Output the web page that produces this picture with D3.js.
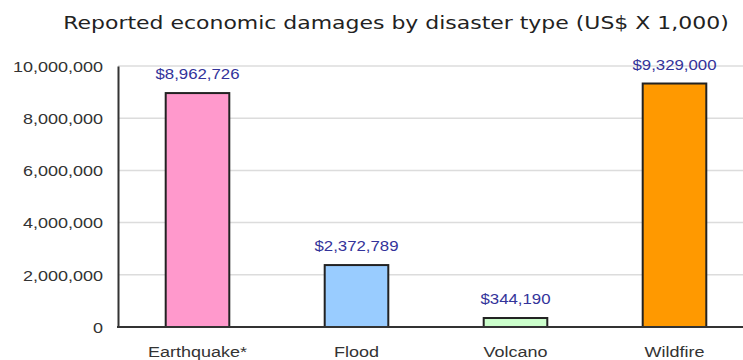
<!DOCTYPE html>
<html>
<head>
<meta charset="utf-8">
<script src="https://cdn.jsdelivr.net/npm/d3@7"></script>
<style>
  html, body { margin: 0; padding: 0; background: #fff; }
  svg { display: block; }
</style>
</head>
<body>
<div id="chart"></div>
<script>
// dados
const categories = ['Earthquake*', 'Flood', 'Volcano', 'Wildfire'];
const damages = [8962726, 2372789, 344190, 9329000];
const barColors = ['#ff99cc', '#99ccff', '#ccffcc', '#ff9900'];
const yTicks = [0, 2000000, 4000000, 6000000, 8000000, 10000000];
const titleText = 'Reported economic damages by disaster type (US$ X 1,000)';

const W = 743, H = 360;
const STRETCH = 1.2; // o texto original parece esticado na horizontal

const svg = d3.select('#chart').append('svg')
    .attr('width', W)
    .attr('height', H);

const x = d3.scaleBand()
    .domain(categories)
    .range([118, 754])
    .paddingInner(0.6)
    .paddingOuter(0.3);

const y = d3.scaleLinear()
    .domain([0, 10000000])
    .range([327, 66]);

const fmt = d3.format(',');

// título
svg.append('text')
    .attr('transform', `translate(396, 29) scale(${STRETCH},1)`)
    .attr('text-anchor', 'middle')
    .attr('font-family', 'DejaVu Sans, Verdana, sans-serif')
    .attr('font-size', '18.3px')
    .attr('fill', '#222')
    .text(titleText);

// linhas de grade
svg.append('g')
    .selectAll('line')
    .data(yTicks.filter(d => d > 0))
    .enter()
    .append('line')
    .attr('x1', 118)
    .attr('x2', W)
    .attr('y1', d => y(d))
    .attr('y2', d => y(d))
    .attr('stroke', '#dcdcdc')
    .attr('stroke-width', 1.5);

// eixo Y
const yAxis = svg.append('g')
    .attr('transform', 'translate(118,0)')
    .call(d3.axisLeft(y).tickValues(yTicks).tickFormat(d => fmt(d)).tickSize(0));

yAxis.select('.domain')
    .attr('stroke', '#333')
    .attr('stroke-width', 2);

yAxis.selectAll('text')
    .attr('x', -15 / STRETCH)
    .attr('dy', '0.35em')
    .attr('transform', `scale(${STRETCH},1)`)
    .attr('font-family', 'Liberation Sans, Arial, sans-serif')
    .attr('font-size', '15px')
    .attr('fill', '#333');

// barras
svg.append('g')
    .selectAll('rect')
    .data(categories)
    .enter()
    .append('rect')
    .attr('x', d => x(d))
    .attr('width', x.bandwidth())
    .attr('y', (d, i) => y(damages[i]))
    .attr('height', (d, i) => y(0) - y(damages[i]))
    .attr('fill', (d, i) => barColors[i])
    .attr('stroke', '#222')
    .attr('stroke-width', 2);

// linha de base
svg.append('line')
    .attr('x1', 117)
    .attr('x2', W)
    .attr('y1', y(0))
    .attr('y2', y(0))
    .attr('stroke', '#333')
    .attr('stroke-width', 2);

// rótulos de valor
svg.append('g')
    .selectAll('text')
    .data(categories)
    .enter()
    .append('text')
    .attr('transform', (d, i) =>
        `translate(${x(d) + x.bandwidth() / 2}, ${y(damages[i]) - 14}) scale(${STRETCH},1)`)
    .attr('text-anchor', 'middle')
    .attr('font-family', 'Liberation Sans, Arial, sans-serif')
    .attr('font-size', '14px')
    .attr('fill', '#33339a')
    .text((d, i) => '$' + fmt(damages[i]));

// rótulos das categorias
svg.append('g')
    .selectAll('text')
    .data(categories)
    .enter()
    .append('text')
    .attr('transform', d => `translate(${x(d) + x.bandwidth() / 2}, 357) scale(${STRETCH},1)`)
    .attr('text-anchor', 'middle')
    .attr('font-family', 'Liberation Sans, Arial, sans-serif')
    .attr('font-size', '15px')
    .attr('fill', '#333')
    .text(d => d);
</script>
</body>
</html>
